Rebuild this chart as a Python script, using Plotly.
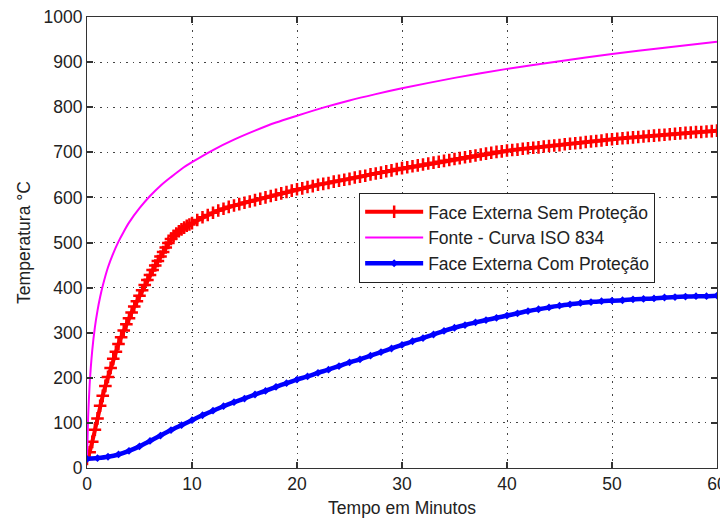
import plotly.graph_objects as go

# ---------------- data ----------------
# Face Externa Sem Proteção (red): 0..10 min every 0.25 min, then 10.5..60 every 0.5 min
red_t_early = [i * 0.25 for i in range(41)]
red_T_early = [20, 35, 58, 85, 110, 138, 160, 182, 202, 222, 242, 258, 275, 290, 305, 319,
               332, 345, 358, 370, 382, 394, 406, 417, 428, 439, 449, 459, 469, 479, 489,
               499, 508, 515, 520, 525, 529, 533, 537, 540, 543]
red_t_late = [10.5 + i * 0.5 for i in range(100)]
red_T_late = [550, 556, 561, 566, 571, 575, 579, 582, 585, 588, 591, 594, 597, 600, 603, 606,
              609, 612, 615, 618, 620, 623, 625, 628, 630, 632, 635, 637, 639, 641, 644, 646,
              648, 651, 653, 655, 658, 660, 663, 665, 667, 669, 671, 673, 675, 677, 679, 681,
              683, 685, 687, 689, 691, 693, 695, 697, 699, 701, 702, 704, 705, 706, 708, 709,
              710, 711, 713, 714, 715, 716, 718, 719, 720, 721, 723, 724, 725, 726, 728, 729,
              730, 731, 732, 733, 734, 735, 736, 737, 738, 739, 740, 741, 742, 743, 744, 745,
              745, 746, 747, 748]
red_t = red_t_early + red_t_late
red_T = red_T_early + red_T_late

# Fonte - Curva ISO 834 (magenta)
iso_t = [0, 0.1, 0.25, 0.5, 0.75, 1, 1.25, 1.5, 2, 2.5, 3, 3.5, 4, 5, 6, 7, 8, 9, 10, 12, 14,
         16, 18, 20, 22.5, 25, 27.5, 30, 35, 40, 45, 50, 55, 60]
iso_T = [20, 108, 185, 261, 312, 349, 379, 404, 445, 476, 502, 524, 544, 576, 603, 626, 645,
         663, 678, 705, 728, 748, 766, 781, 799, 815, 829, 842, 865, 885, 902, 918, 932, 945]

# Face Externa Com Proteção (blue), every minute
blue_t = list(range(61))
blue_T = [20, 22, 25, 30, 38, 48, 60, 72, 84, 95, 106, 117, 127, 137, 146, 154, 163, 171, 180,
          188, 196, 203, 211, 218, 226, 234, 241, 249, 257, 265, 273, 281, 288, 296, 304, 311,
          317, 323, 328, 333, 338, 343, 348, 352, 356, 360, 363, 366, 368, 370, 371, 372, 374,
          375, 376, 378, 379, 380, 381, 381, 382]

x_ticks = [0, 10, 20, 30, 40, 50, 60]
y_ticks = [0, 100, 200, 300, 400, 500, 600, 700, 800, 900, 1000]

FONT = "Liberation Sans, Arial, sans-serif"
FS = 17.5
TXT = "#222222"

fig = go.Figure()
fig.add_trace(go.Scatter(
    x=red_t, y=red_T, mode="lines+markers", name="Face Externa Sem Proteção",
    line=dict(color="#ff0000", width=4),
    marker=dict(symbol="cross-thin", size=9, line=dict(color="#ff0000", width=2.5)),
))
fig.add_trace(go.Scatter(
    x=iso_t, y=iso_T, mode="lines", name="Fonte - Curva ISO 834",
    line=dict(color="#ff00ff", width=2, shape="spline", smoothing=0.6),
))
fig.add_trace(go.Scatter(
    x=blue_t, y=blue_T, mode="lines+markers", name="Face Externa Com Proteção",
    line=dict(color="#0000ff", width=4.5, shape="spline", smoothing=0.5),
    marker=dict(symbol="diamond", size=6, color="#0000ff"),
))

axis_common = dict(
    showline=True, linecolor="#333333", linewidth=1, mirror="ticks",
    ticks="inside", ticklen=6, tickcolor="#333333", tickwidth=1.5,
    showgrid=True, gridcolor="#444444", gridwidth=1.2, griddash="1.5px,5px",
    zeroline=False, automargin=False,
    tickfont=dict(family=FONT, size=FS, color=TXT),
)

fig.update_xaxes(range=[0, 60], tickvals=x_ticks, ticktext=[str(v) for v in x_ticks],
                 ticklabeloverflow="allow",
                 title=dict(text="Tempo em Minutos", font=dict(family=FONT, size=FS, color=TXT),
                            standoff=8),
                 **axis_common)
fig.update_yaxes(range=[0, 1000], tickvals=y_ticks, ticktext=[str(v) for v in y_ticks],
                 title=dict(text="Temperatura °C", font=dict(family=FONT, size=FS, color=TXT),
                            standoff=8),
                 **axis_common)

fig.update_layout(
    width=720, height=522,
    margin=dict(l=87, r=3, t=17, b=54),
    paper_bgcolor="white", plot_bgcolor="white",
    showlegend=True,
    legend=dict(x=0.432, y=0.61, xanchor="left", yanchor="top",
                bgcolor="white", bordercolor="#222222", borderwidth=1,
                font=dict(family=FONT, size=FS, color=TXT),
                tracegroupgap=0, itemwidth=58),
)

fig.write_html("out.html")
